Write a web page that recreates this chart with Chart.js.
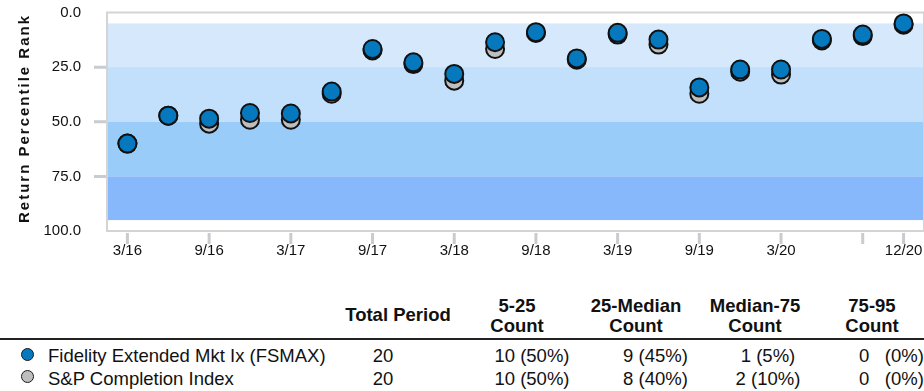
<!DOCTYPE html>
<html>
<head>
<meta charset="utf-8">
<script src="https://cdn.jsdelivr.net/npm/chart.js@4.4.1/dist/chart.umd.min.js"></script>
<style>
  body { margin: 0; background: #fff; font-family: Arial, "Liberation Sans", sans-serif; color: #111; }
  #wrap { position: relative; width: 924px; height: 391px; overflow: hidden; }
  #chart { position: absolute; left: 0; top: 0; }
  .t { position: absolute; font-size: 18.5px; line-height: 20px; white-space: pre; }
  .h { font-weight: bold; text-align: center; line-height: 20.5px; }
  .c { text-align: center; }
  .rule { position: absolute; left: 0; top: 337.5px; width: 924px; height: 2px; background: #222; }
  .dot { position: absolute; width: 11px; height: 11px; border-radius: 50%; border: 1.5px solid #1a1a1a; }
</style>
</head>
<body>
<div id="wrap">
  <canvas id="chart" width="924" height="270"></canvas>
  <div class="rule"></div>
</div>
<script>
// quarter ends, 3/16 .. 12/20
const quarters = ['3/16', '6/16', '9/16', '12/16', '3/17', '6/17', '9/17', '12/17', '3/18', '6/18',
  '9/18', '12/18', '3/19', '6/19', '9/19', '12/19', '3/20', '6/20', '9/20', '12/20'];
const axisLabels = ['3/16', '9/16', '3/17', '9/17', '3/18', '9/18', '3/19', '9/19', '3/20', '12/20'];
const tickMarks = ['3/16', '9/16', '3/17', '9/17', '3/18', '9/18', '3/19', '9/19', '3/20', '9/20', '12/20'];

// return percentile rank per quarter (lower is better)
const fundName = 'Fidelity Extended Mkt Ix (FSMAX)';
const fundRank = [60.0, 47.2, 48.6, 46.0, 46.2, 36.2, 16.7, 22.8, 28.1, 13.6,
  9.0, 21.0, 9.3, 12.4, 34.3, 26.1, 26.1, 12.1, 10.1, 5.0];
const indexName = 'S&P Completion Index';
const indexRank = [60.0, 47.2, 50.9, 49.1, 49.1, 37.2, 17.4, 23.6, 31.2, 16.7,
  9.4, 21.6, 10.1, 14.7, 37.2, 27.1, 28.4, 12.8, 10.8, 5.6];

const bandEdges = [5, 25, 50, 75, 95];
const bandNames = ['5-25', '25-Median', 'Median-75', '75-95'];
const bandColors = ['#D5E8FC', '#C2DFFC', '#9ACCFA', '#86B8FB'];
const yTicks = [0, 25, 50, 75, 100];

const fundColor = '#0678BE';
const indexColor = '#BEBEBE';

const backdrop = {
  id: 'backdrop',
  beforeDatasetsDraw(chart) {
    const { ctx, chartArea: a, scales: { x, y } } = chart;
    ctx.save();
    for (let i = 0; i < bandEdges.length - 1; i++) {
      const y0 = y.getPixelForValue(bandEdges[i]);
      const y1 = y.getPixelForValue(bandEdges[i + 1]);
      ctx.fillStyle = bandColors[i];
      ctx.fillRect(a.left, y0, a.right - a.left, y1 - y0);
    }
    ctx.strokeStyle = '#D4D4D4';
    ctx.lineWidth = 2;
    ctx.strokeRect(a.left, a.top, a.right - a.left, a.bottom - a.top);

    ctx.strokeStyle = '#C8CCD1';
    ctx.lineWidth = 3;
    ctx.beginPath();
    yTicks.slice(1, -1).forEach(v => {
      const py = y.getPixelForValue(v);
      ctx.moveTo(a.left - 13, py);
      ctx.lineTo(a.left - 1, py);
    });
    tickMarks.forEach(q => {
      const px = x.getPixelForValue(quarters.indexOf(q));
      ctx.moveTo(px, a.bottom + 2);
      ctx.lineTo(px, a.bottom + 13);
    });
    ctx.stroke();
    ctx.restore();
  },
  afterDraw(chart) {
    const { ctx } = chart;
    ctx.save();
    ctx.translate(28.5, 118.5);
    ctx.rotate(-Math.PI / 2);
    ctx.font = 'bold 15px Arial, "Liberation Sans", sans-serif';
    ctx.letterSpacing = '2px';
    ctx.fillStyle = '#111';
    ctx.textAlign = 'center';
    ctx.fillText('Return Percentile Rank', 0, 0);
    ctx.restore();
  }
};

const pointStyle = (color) => ({
  showLine: false,
  pointRadius: 9,
  pointHoverRadius: 9,
  pointBorderWidth: 2,
  pointBackgroundColor: color,
  pointBorderColor: '#111',
  backgroundColor: color,
  borderColor: '#111'
});

// tick marks are drawn by the backdrop plugin; these grids only reserve label space
const hiddenGrid = (len) => ({
  display: true,
  drawOnChartArea: false,
  drawTicks: true,
  tickLength: len,
  tickColor: 'rgba(0,0,0,0)'
});

new Chart(document.getElementById('chart'), {
  type: 'line',
  data: {
    labels: quarters,
    datasets: [
      { label: fundName, data: fundRank, ...pointStyle(fundColor) },
      { label: indexName, data: indexRank, ...pointStyle(indexColor) }
    ]
  },
  options: {
    responsive: false,
    animation: false,
    layout: { autoPadding: false, padding: { top: 12.5, right: 0, left: 0, bottom: 0 } },
    plugins: { legend: { display: false }, tooltip: { enabled: false } },
    scales: {
      x: {
        type: 'category',
        offset: true,
        grid: hiddenGrid(11),
        border: { display: false },
        ticks: {
          autoSkip: false,
          maxRotation: 0,
          padding: 0,
          color: '#111',
          font: { size: 15, family: 'Arial, "Liberation Sans", sans-serif' },
          callback: (v, i) => axisLabels.includes(quarters[i]) ? quarters[i] : ''
        },
        afterFit: s => { s.height = 39; }
      },
      y: {
        min: 0,
        max: 100,
        reverse: true,
        grid: hiddenGrid(26),
        border: { display: false },
        afterBuildTicks: s => { s.ticks = yTicks.map(v => ({ value: v })); },
        ticks: {
          padding: 0,
          color: '#111',
          font: { size: 15, family: 'Arial, "Liberation Sans", sans-serif' },
          callback: v => Number(v).toFixed(1)
        },
        afterFit: s => { s.width = 107; }
      }
    }
  },
  plugins: [backdrop]
});

// summary table under the chart
const wrap = document.getElementById('wrap');
function put(text, cls, left, top, width) {
  const d = document.createElement('div');
  d.className = 't ' + cls;
  d.textContent = text;
  d.style.left = left + 'px';
  d.style.top = top + 'px';
  if (width) d.style.width = width + 'px';
  wrap.appendChild(d);
  return d;
}
function centered(text, cls, cx, top) {
  return put(text, cls, cx - 70, top, 140);
}

const totalCx = 398;
const bandCx = [517, 636, 755, 872];
const cellCx = [532, 655.5, 768, 891.5];

centered('Total Period', 'h', totalCx, 305);
bandNames.forEach((n, i) => centered(n + '\nCount', 'h', bandCx[i], 295.5));

function countText(vals, lo, hi) {
  const n = vals.filter(v => v >= lo && (hi === 95 ? v <= hi : v < hi)).length;
  const pct = Math.round(n / vals.length * 100);
  return n === 0 ? '0   (0%)' : n + ' (' + pct + '%)';
}

[[fundName, fundRank, fundColor, 346], [indexName, indexRank, indexColor, 368.7]].forEach(([name, vals, color, top]) => {
  const dot = document.createElement('div');
  dot.className = 'dot';
  dot.style.background = color;
  dot.style.left = (28.3 - 7) + 'px';
  dot.style.top = (top + 8.7 - 7) + 'px';
  wrap.appendChild(dot);
  put(name, '', 48, top);
  centered(String(vals.length), 'c', 383, top);
  for (let i = 0; i < bandEdges.length - 1; i++) {
    centered(countText(vals, bandEdges[i], bandEdges[i + 1]), 'c', cellCx[i], top);
  }
});
</script>
</body>
</html>
